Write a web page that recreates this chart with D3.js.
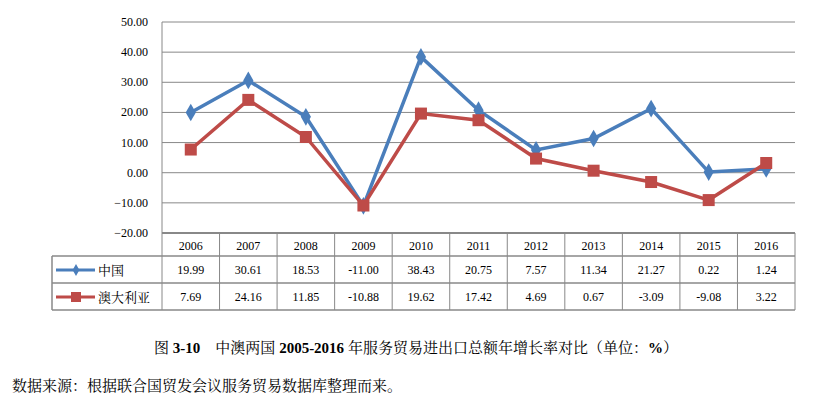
<!DOCTYPE html><html><head><meta charset="utf-8"><script src="https://cdn.jsdelivr.net/npm/d3@7"></script>
<style>body{margin:0;background:#fff}text{font-family:"Liberation Serif","Noto Serif CJK SC","Noto Sans CJK SC",serif}</style></head><body>
<svg id="c" width="832" height="406"></svg>
<script>
const years=["2006","2007","2008","2009","2010","2011","2012","2013","2014","2015","2016"];
const china=[19.99,30.61,18.53,-11.00,38.43,20.75,7.57,11.34,21.27,0.22,1.24];
const aus=[7.69,24.16,11.85,-10.88,19.62,17.42,4.69,0.67,-3.09,-9.08,3.22];
const yTicks=[50,40,30,20,10,0,-10,-20];
const seriesNames=["中国","澳大利亚"];
const svg=d3.select("#c");
const L=162,R=795,T=22,B=233;
const x=d3.scaleBand().domain(years).range([L,R]);
const y=d3.scaleLinear().domain([-20,50]).range([B,T]);
const grid="#888";
svg.append("g").selectAll("line").data(yTicks).join("line").attr("x1",L).attr("x2",R).attr("y1",d=>y(d)).attr("y2",d=>y(d)).attr("stroke",grid).attr("stroke-width",1);
svg.append("line").attr("x1",L).attr("x2",L).attr("y1",T).attr("y2",B).attr("stroke",grid);
svg.append("line").attr("x1",R).attr("x2",R).attr("y1",B).attr("y2",310).attr("stroke",grid);
svg.append("g").selectAll("text").data(yTicks).join("text").attr("x",L-14).attr("y",d=>y(d)+4).attr("text-anchor","end").attr("font-size",12).text(d=>d3.format(".2f")(d));
// table
const rows=[B,256,283,310];
rows.forEach((r,i)=>svg.append("line").attr("x1",i==0?L:52).attr("x2",R).attr("y1",r).attr("y2",r).attr("stroke",grid).attr("stroke-width",i==0?2:1.5));
svg.append("line").attr("x1",52).attr("x2",52).attr("y1",256).attr("y2",310).attr("stroke",grid).attr("stroke-width",1.5);
years.forEach(yr=>svg.append("line").attr("x1",x(yr)).attr("x2",x(yr)).attr("y1",B).attr("y2",310).attr("stroke",grid));
svg.append("g").selectAll("text").data(years).join("text").attr("x",d=>x(d)+x.bandwidth()/2).attr("y",250).attr("text-anchor","middle").attr("font-size",12).text(d=>d);
const colors=["#4a7ebb","#be4b48"];
[china,aus].forEach((s,i)=>{
  const ry=i==0?270:297;
  svg.append("g").selectAll("text").data(s).join("text").attr("x",(d,j)=>x(years[j])+x.bandwidth()/2).attr("y",ry+4).attr("text-anchor","middle").attr("font-size",12).text(d=>d.toFixed(2));
  svg.append("line").attr("x1",56).attr("x2",95).attr("y1",ry).attr("y2",ry).attr("stroke",colors[i]).attr("stroke-width",3);
  if(i==0) svg.append("path").attr("d",d3.symbol(d3.symbolDiamond,40)()).attr("transform",`translate(76,${ry})`).attr("fill",colors[i]);
  else svg.append("rect").attr("x",71).attr("y",ry-5).attr("width",10).attr("height",10).attr("fill",colors[i]);
  svg.append("text").attr("x",98).attr("y",ry+5).attr("font-size",13).attr("font-family","Noto Sans CJK SC").text(seriesNames[i]);
  const line=d3.line().x((d,j)=>x(years[j])+x.bandwidth()/2).y(d=>y(d));
  svg.append("path").datum(s).attr("d",line).attr("fill","none").attr("stroke",colors[i]).attr("stroke-width",3.5);
  const g=svg.append("g").selectAll("g").data(s).join("g").attr("transform",(d,j)=>`translate(${x(years[j])+x.bandwidth()/2},${y(d)})`);
  if(i==0) g.append("path").attr("d",d3.symbol(d3.symbolDiamond,90)()).attr("fill",colors[i]);
  else g.append("rect").attr("x",-6).attr("y",-6).attr("width",12).attr("height",12).attr("fill",colors[i]);
});
svg.append("text").attr("x",416).attr("y",353).attr("text-anchor","middle").attr("font-size",15).html('图 <tspan font-weight="bold">3-10</tspan>　中澳两国 <tspan font-weight="bold">2005-2016</tspan> 年服务贸易进出口总额年增长率对比（单位：<tspan font-weight="bold">%</tspan>）');
svg.append("text").attr("x",12).attr("y",391).attr("font-size",15).text("数据来源：根据联合国贸发会议服务贸易数据库整理而来。");
</script></body></html>
